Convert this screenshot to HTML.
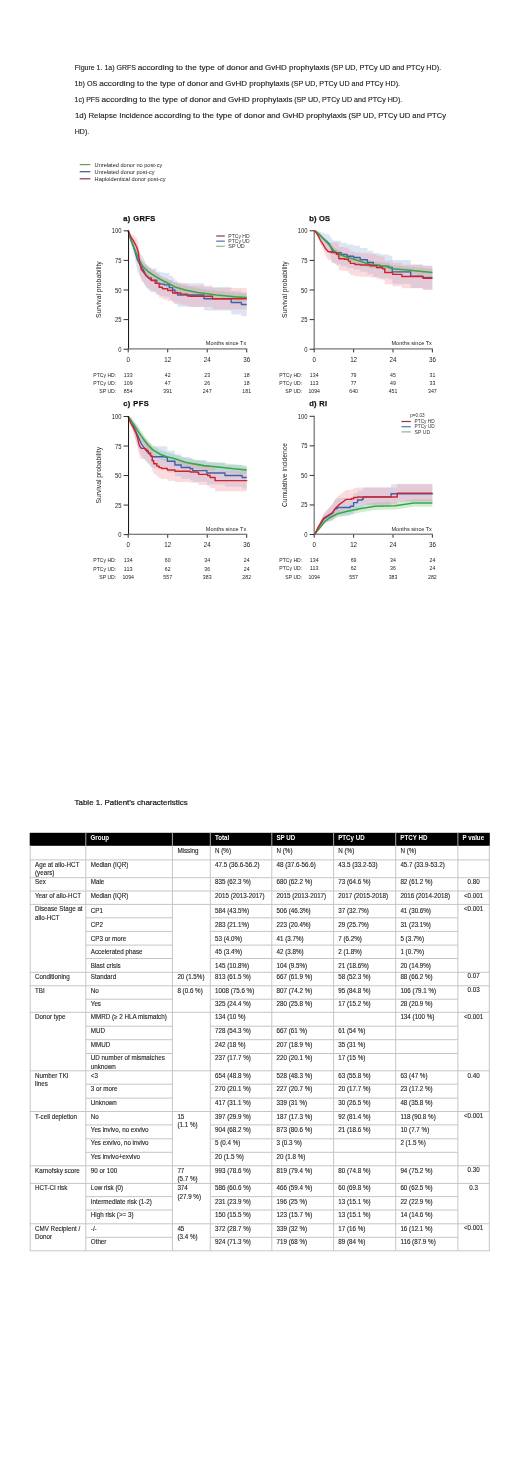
<!DOCTYPE html>
<html><head><meta charset="utf-8"><style>
html,body{margin:0;padding:0;background:#fff;}
body{width:520px;height:1471px;overflow:hidden;position:relative;}
svg{position:absolute;left:0;top:0;filter:blur(0.35px);}
text{font-family:"Liberation Sans",sans-serif;}
.d{stroke:#1a1a1a;stroke-width:0.12px;}
.t{stroke:#1e1e1e;stroke-width:0.12px;}
.h{stroke:#fff;stroke-width:0.1px;}
.ti{stroke:#111;stroke-width:0.25px;}
.tt{stroke:#1a1a1a;stroke-width:0.22px;}
</style></head><body>
<svg width="520" height="1471" viewBox="0 0 520 1471">
<text x="74.80" y="69.80" font-size="6.9" fill="#1a1a1a" class="d" textLength="61.10" lengthAdjust="spacingAndGlyphs">Figure 1. 1a) GRFS</text>
<text x="137.70" y="69.80" font-size="6.9" fill="#1a1a1a" class="d" textLength="110.00" lengthAdjust="spacingAndGlyphs">according to the type of donor</text>
<text x="249.50" y="69.80" font-size="6.9" fill="#1a1a1a" class="d" textLength="79.90" lengthAdjust="spacingAndGlyphs">and GvHD prophylaxis</text>
<text x="331.20" y="69.80" font-size="6.9" fill="#1a1a1a" class="d" textLength="110.00" lengthAdjust="spacingAndGlyphs">(SP UD, PTCy UD and PTCy HD).</text>
<text x="74.60" y="85.70" font-size="6.9" fill="#1a1a1a" class="d" textLength="22.80" lengthAdjust="spacingAndGlyphs">1b) OS</text>
<text x="99.20" y="85.70" font-size="6.9" fill="#1a1a1a" class="d" textLength="108.80" lengthAdjust="spacingAndGlyphs">according to the type of donor</text>
<text x="209.80" y="85.70" font-size="6.9" fill="#1a1a1a" class="d" textLength="79.70" lengthAdjust="spacingAndGlyphs">and GvHD prophylaxis</text>
<text x="291.30" y="85.70" font-size="6.9" fill="#1a1a1a" class="d" textLength="108.70" lengthAdjust="spacingAndGlyphs">(SP UD, PTCy UD and PTCy HD).</text>
<text x="74.60" y="101.70" font-size="6.9" fill="#1a1a1a" class="d" textLength="25.10" lengthAdjust="spacingAndGlyphs">1c) PFS</text>
<text x="101.50" y="101.70" font-size="6.9" fill="#1a1a1a" class="d" textLength="109.20" lengthAdjust="spacingAndGlyphs">according to the type of donor</text>
<text x="212.50" y="101.70" font-size="6.9" fill="#1a1a1a" class="d" textLength="79.90" lengthAdjust="spacingAndGlyphs">and GvHD prophylaxis</text>
<text x="294.20" y="101.70" font-size="6.9" fill="#1a1a1a" class="d" textLength="108.10" lengthAdjust="spacingAndGlyphs">(SP UD, PTCy UD and PTCy HD).</text>
<text x="75.00" y="118.20" font-size="6.9" fill="#1a1a1a" class="d" textLength="77.80" lengthAdjust="spacingAndGlyphs">1d) Relapse Incidence</text>
<text x="154.60" y="118.20" font-size="6.9" fill="#1a1a1a" class="d" textLength="110.50" lengthAdjust="spacingAndGlyphs">according to the type of donor</text>
<text x="266.90" y="118.20" font-size="6.9" fill="#1a1a1a" class="d" textLength="79.80" lengthAdjust="spacingAndGlyphs">and GvHD prophylaxis</text>
<text x="348.50" y="118.20" font-size="6.9" fill="#1a1a1a" class="d" textLength="97.50" lengthAdjust="spacingAndGlyphs">(SP UD, PTCy UD and PTCy</text>
<text x="74.80" y="133.90" font-size="6.9" fill="#1a1a1a" class="d" textLength="14.40" lengthAdjust="spacingAndGlyphs">HD).</text>
<text x="74.60" y="805.40" font-size="7.3" fill="#1a1a1a" class="tt" textLength="113.10" lengthAdjust="spacingAndGlyphs">Table 1. Patient’s characteristics</text>
<rect x="29.70" y="832.80" width="460.10" height="13.00" fill="#000"/>
<text x="90.40" y="839.70" font-size="6.7" font-weight="bold" fill="#fff" textLength="18.60" lengthAdjust="spacingAndGlyphs">Group</text>
<text x="214.90" y="839.70" font-size="6.7" font-weight="bold" fill="#fff" textLength="14.35" lengthAdjust="spacingAndGlyphs">Total</text>
<text x="276.40" y="839.70" font-size="6.7" font-weight="bold" fill="#fff" textLength="18.84" lengthAdjust="spacingAndGlyphs">SP UD</text>
<text x="338.20" y="839.70" font-size="6.7" font-weight="bold" fill="#fff" textLength="26.53" lengthAdjust="spacingAndGlyphs">PTCy UD</text>
<text x="400.30" y="839.70" font-size="6.7" font-weight="bold" fill="#fff" textLength="27.10" lengthAdjust="spacingAndGlyphs">PTCY HD</text>
<text x="462.50" y="839.70" font-size="6.7" font-weight="bold" fill="#fff" textLength="21.60" lengthAdjust="spacingAndGlyphs">P value</text>
<rect x="85.30" y="832.80" width="1" height="13.00" fill="#a8a8a8"/>
<rect x="171.90" y="832.80" width="1" height="13.00" fill="#a8a8a8"/>
<rect x="209.80" y="832.80" width="1" height="13.00" fill="#a8a8a8"/>
<rect x="271.30" y="832.80" width="1" height="13.00" fill="#a8a8a8"/>
<rect x="333.10" y="832.80" width="1" height="13.00" fill="#a8a8a8"/>
<rect x="395.20" y="832.80" width="1" height="13.00" fill="#a8a8a8"/>
<rect x="457.40" y="832.80" width="1" height="13.00" fill="#a8a8a8"/>
<rect x="29.70" y="845.80" width="1" height="405.00" fill="#c6c6c6"/>
<rect x="85.30" y="845.80" width="1" height="405.00" fill="#c6c6c6"/>
<rect x="171.90" y="845.80" width="1" height="405.00" fill="#c6c6c6"/>
<rect x="209.80" y="845.80" width="1" height="405.00" fill="#c6c6c6"/>
<rect x="271.30" y="845.80" width="1" height="405.00" fill="#c6c6c6"/>
<rect x="333.10" y="845.80" width="1" height="405.00" fill="#c6c6c6"/>
<rect x="395.20" y="845.80" width="1" height="405.00" fill="#c6c6c6"/>
<rect x="457.40" y="845.80" width="1" height="405.00" fill="#c6c6c6"/>
<rect x="488.80" y="845.80" width="1" height="405.00" fill="#c6c6c6"/>
<rect x="29.70" y="859.40" width="460.10" height="1" fill="#c6c6c6"/>
<text x="177.40" y="852.80" font-size="6.6" fill="#1e1e1e" class="t" textLength="21.18" lengthAdjust="spacingAndGlyphs">Missing</text>
<text x="215.00" y="852.80" font-size="6.6" fill="#1e1e1e" class="t" textLength="15.97" lengthAdjust="spacingAndGlyphs">N (%)</text>
<text x="276.50" y="852.80" font-size="6.6" fill="#1e1e1e" class="t" textLength="15.97" lengthAdjust="spacingAndGlyphs">N (%)</text>
<text x="338.30" y="852.80" font-size="6.6" fill="#1e1e1e" class="t" textLength="15.97" lengthAdjust="spacingAndGlyphs">N (%)</text>
<text x="400.40" y="852.80" font-size="6.6" fill="#1e1e1e" class="t" textLength="15.97" lengthAdjust="spacingAndGlyphs">N (%)</text>
<rect x="29.70" y="877.20" width="460.10" height="1" fill="#c6c6c6"/>
<text x="35.00" y="866.90" font-size="6.6" fill="#1e1e1e" class="t" textLength="44.46" lengthAdjust="spacingAndGlyphs">Age at allo-HCT</text>
<text x="35.00" y="875.30" font-size="6.6" fill="#1e1e1e" class="t" textLength="19.44" lengthAdjust="spacingAndGlyphs">(years)</text>
<text x="90.80" y="866.90" font-size="6.6" fill="#1e1e1e" class="t" textLength="37.51" lengthAdjust="spacingAndGlyphs">Median (IQR)</text>
<text x="215.00" y="866.90" font-size="6.6" fill="#1e1e1e" class="t" textLength="44.47" lengthAdjust="spacingAndGlyphs">47.5 (36.6-56.2)</text>
<text x="276.50" y="866.90" font-size="6.6" fill="#1e1e1e" class="t" textLength="39.26" lengthAdjust="spacingAndGlyphs">48 (37.6-56.6)</text>
<text x="338.30" y="866.90" font-size="6.6" fill="#1e1e1e" class="t" textLength="39.26" lengthAdjust="spacingAndGlyphs">43.5 (33.2-53)</text>
<text x="400.40" y="866.90" font-size="6.6" fill="#1e1e1e" class="t" textLength="44.47" lengthAdjust="spacingAndGlyphs">45.7 (33.9-53.2)</text>
<rect x="29.70" y="890.50" width="460.10" height="1" fill="#c6c6c6"/>
<text x="35.00" y="884.00" font-size="6.6" fill="#1e1e1e" class="t" textLength="10.77" lengthAdjust="spacingAndGlyphs">Sex</text>
<text x="473.60" y="883.70" font-size="6.6" text-anchor="middle" fill="#1e1e1e" class="t" textLength="12.16" lengthAdjust="spacingAndGlyphs">0.80</text>
<text x="90.80" y="884.00" font-size="6.6" fill="#1e1e1e" class="t" textLength="13.55" lengthAdjust="spacingAndGlyphs">Male</text>
<text x="215.00" y="884.00" font-size="6.6" fill="#1e1e1e" class="t" textLength="35.78" lengthAdjust="spacingAndGlyphs">835 (62.3 %)</text>
<text x="276.50" y="884.00" font-size="6.6" fill="#1e1e1e" class="t" textLength="35.78" lengthAdjust="spacingAndGlyphs">680 (62.2 %)</text>
<text x="338.30" y="884.00" font-size="6.6" fill="#1e1e1e" class="t" textLength="32.31" lengthAdjust="spacingAndGlyphs">73 (64.6 %)</text>
<text x="400.40" y="884.00" font-size="6.6" fill="#1e1e1e" class="t" textLength="32.31" lengthAdjust="spacingAndGlyphs">82 (61.2 %)</text>
<rect x="29.70" y="903.90" width="460.10" height="1" fill="#c6c6c6"/>
<text x="35.00" y="897.70" font-size="6.6" fill="#1e1e1e" class="t" textLength="45.97" lengthAdjust="spacingAndGlyphs">Year of allo-HCT</text>
<text x="473.60" y="897.50" font-size="6.6" text-anchor="middle" fill="#1e1e1e" class="t" textLength="19.29" lengthAdjust="spacingAndGlyphs">&lt;0.001</text>
<text x="90.80" y="897.70" font-size="6.6" fill="#1e1e1e" class="t" textLength="37.51" lengthAdjust="spacingAndGlyphs">Median (IQR)</text>
<text x="215.00" y="897.70" font-size="6.6" fill="#1e1e1e" class="t" textLength="49.69" lengthAdjust="spacingAndGlyphs">2015 (2013-2017)</text>
<text x="276.50" y="897.70" font-size="6.6" fill="#1e1e1e" class="t" textLength="49.69" lengthAdjust="spacingAndGlyphs">2015 (2013-2017)</text>
<text x="338.30" y="897.70" font-size="6.6" fill="#1e1e1e" class="t" textLength="49.69" lengthAdjust="spacingAndGlyphs">2017 (2015-2018)</text>
<text x="400.40" y="897.70" font-size="6.6" fill="#1e1e1e" class="t" textLength="49.69" lengthAdjust="spacingAndGlyphs">2016 (2014-2018)</text>
<rect x="29.70" y="971.80" width="460.10" height="1" fill="#c6c6c6"/>
<rect x="85.80" y="917.30" width="86.60" height="1" fill="#c6c6c6"/>
<rect x="210.30" y="917.30" width="247.60" height="1" fill="#c6c6c6"/>
<rect x="85.80" y="930.90" width="86.60" height="1" fill="#c6c6c6"/>
<rect x="210.30" y="930.90" width="247.60" height="1" fill="#c6c6c6"/>
<rect x="85.80" y="944.60" width="86.60" height="1" fill="#c6c6c6"/>
<rect x="210.30" y="944.60" width="247.60" height="1" fill="#c6c6c6"/>
<rect x="85.80" y="958.00" width="86.60" height="1" fill="#c6c6c6"/>
<rect x="210.30" y="958.00" width="247.60" height="1" fill="#c6c6c6"/>
<text x="35.00" y="911.20" font-size="6.6" fill="#1e1e1e" class="t" textLength="47.60" lengthAdjust="spacingAndGlyphs">Disease Stage at</text>
<text x="35.00" y="919.60" font-size="6.6" fill="#1e1e1e" class="t" textLength="24.65" lengthAdjust="spacingAndGlyphs">allo-HCT</text>
<text x="473.60" y="910.80" font-size="6.6" text-anchor="middle" fill="#1e1e1e" class="t" textLength="19.29" lengthAdjust="spacingAndGlyphs">&lt;0.001</text>
<text x="90.80" y="913.10" font-size="6.6" fill="#1e1e1e" class="t" textLength="12.16" lengthAdjust="spacingAndGlyphs">CP1</text>
<text x="215.00" y="913.10" font-size="6.6" fill="#1e1e1e" class="t" textLength="34.05" lengthAdjust="spacingAndGlyphs">584 (43.5%)</text>
<text x="276.50" y="913.10" font-size="6.6" fill="#1e1e1e" class="t" textLength="34.05" lengthAdjust="spacingAndGlyphs">506 (46.3%)</text>
<text x="338.30" y="913.10" font-size="6.6" fill="#1e1e1e" class="t" textLength="30.57" lengthAdjust="spacingAndGlyphs">37 (32.7%)</text>
<text x="400.40" y="913.10" font-size="6.6" fill="#1e1e1e" class="t" textLength="30.57" lengthAdjust="spacingAndGlyphs">41 (30.6%)</text>
<text x="90.80" y="927.00" font-size="6.6" fill="#1e1e1e" class="t" textLength="12.16" lengthAdjust="spacingAndGlyphs">CP2</text>
<text x="215.00" y="927.00" font-size="6.6" fill="#1e1e1e" class="t" textLength="34.05" lengthAdjust="spacingAndGlyphs">283 (21.1%)</text>
<text x="276.50" y="927.00" font-size="6.6" fill="#1e1e1e" class="t" textLength="34.05" lengthAdjust="spacingAndGlyphs">223 (20.4%)</text>
<text x="338.30" y="927.00" font-size="6.6" fill="#1e1e1e" class="t" textLength="30.57" lengthAdjust="spacingAndGlyphs">29 (25.7%)</text>
<text x="400.40" y="927.00" font-size="6.6" fill="#1e1e1e" class="t" textLength="30.57" lengthAdjust="spacingAndGlyphs">31 (23.1%)</text>
<text x="90.80" y="940.70" font-size="6.6" fill="#1e1e1e" class="t" textLength="35.43" lengthAdjust="spacingAndGlyphs">CP3 or more</text>
<text x="215.00" y="940.70" font-size="6.6" fill="#1e1e1e" class="t" textLength="27.09" lengthAdjust="spacingAndGlyphs">53 (4.0%)</text>
<text x="276.50" y="940.70" font-size="6.6" fill="#1e1e1e" class="t" textLength="27.09" lengthAdjust="spacingAndGlyphs">41 (3.7%)</text>
<text x="338.30" y="940.70" font-size="6.6" fill="#1e1e1e" class="t" textLength="23.62" lengthAdjust="spacingAndGlyphs">7 (6.2%)</text>
<text x="400.40" y="940.70" font-size="6.6" fill="#1e1e1e" class="t" textLength="23.62" lengthAdjust="spacingAndGlyphs">5 (3.7%)</text>
<text x="90.80" y="953.90" font-size="6.6" fill="#1e1e1e" class="t" textLength="51.77" lengthAdjust="spacingAndGlyphs">Accelerated phase</text>
<text x="215.00" y="953.90" font-size="6.6" fill="#1e1e1e" class="t" textLength="27.09" lengthAdjust="spacingAndGlyphs">45 (3.4%)</text>
<text x="276.50" y="953.90" font-size="6.6" fill="#1e1e1e" class="t" textLength="27.09" lengthAdjust="spacingAndGlyphs">42 (3.8%)</text>
<text x="338.30" y="953.90" font-size="6.6" fill="#1e1e1e" class="t" textLength="23.62" lengthAdjust="spacingAndGlyphs">2 (1.8%)</text>
<text x="400.40" y="953.90" font-size="6.6" fill="#1e1e1e" class="t" textLength="23.62" lengthAdjust="spacingAndGlyphs">1 (0.7%)</text>
<text x="90.80" y="967.80" font-size="6.6" fill="#1e1e1e" class="t" textLength="29.86" lengthAdjust="spacingAndGlyphs">Blast crisis</text>
<text x="215.00" y="967.80" font-size="6.6" fill="#1e1e1e" class="t" textLength="34.05" lengthAdjust="spacingAndGlyphs">145 (10.8%)</text>
<text x="276.50" y="967.80" font-size="6.6" fill="#1e1e1e" class="t" textLength="30.57" lengthAdjust="spacingAndGlyphs">104 (9.5%)</text>
<text x="338.30" y="967.80" font-size="6.6" fill="#1e1e1e" class="t" textLength="30.57" lengthAdjust="spacingAndGlyphs">21 (18.6%)</text>
<text x="400.40" y="967.80" font-size="6.6" fill="#1e1e1e" class="t" textLength="30.57" lengthAdjust="spacingAndGlyphs">20 (14.9%)</text>
<rect x="29.70" y="985.30" width="460.10" height="1" fill="#c6c6c6"/>
<text x="35.00" y="978.60" font-size="6.6" fill="#1e1e1e" class="t" textLength="34.75" lengthAdjust="spacingAndGlyphs">Conditioning</text>
<text x="177.40" y="978.60" font-size="6.6" fill="#1e1e1e" class="t" textLength="27.09" lengthAdjust="spacingAndGlyphs">20 (1.5%)</text>
<text x="473.60" y="978.30" font-size="6.6" text-anchor="middle" fill="#1e1e1e" class="t" textLength="12.16" lengthAdjust="spacingAndGlyphs">0.07</text>
<text x="90.80" y="978.60" font-size="6.6" fill="#1e1e1e" class="t" textLength="25.36" lengthAdjust="spacingAndGlyphs">Standard</text>
<text x="215.00" y="978.60" font-size="6.6" fill="#1e1e1e" class="t" textLength="35.78" lengthAdjust="spacingAndGlyphs">813 (61.5 %)</text>
<text x="276.50" y="978.60" font-size="6.6" fill="#1e1e1e" class="t" textLength="35.78" lengthAdjust="spacingAndGlyphs">667 (61.9 %)</text>
<text x="338.30" y="978.60" font-size="6.6" fill="#1e1e1e" class="t" textLength="32.31" lengthAdjust="spacingAndGlyphs">58 (52.3 %)</text>
<text x="400.40" y="978.60" font-size="6.6" fill="#1e1e1e" class="t" textLength="32.31" lengthAdjust="spacingAndGlyphs">88 (66.2 %)</text>
<rect x="29.70" y="1011.80" width="460.10" height="1" fill="#c6c6c6"/>
<rect x="85.80" y="998.70" width="86.60" height="1" fill="#c6c6c6"/>
<rect x="210.30" y="998.70" width="247.60" height="1" fill="#c6c6c6"/>
<text x="35.00" y="992.60" font-size="6.6" fill="#1e1e1e" class="t" textLength="9.72" lengthAdjust="spacingAndGlyphs">TBI</text>
<text x="177.40" y="992.60" font-size="6.6" fill="#1e1e1e" class="t" textLength="25.36" lengthAdjust="spacingAndGlyphs">8 (0.6 %)</text>
<text x="473.60" y="992.20" font-size="6.6" text-anchor="middle" fill="#1e1e1e" class="t" textLength="12.16" lengthAdjust="spacingAndGlyphs">0.03</text>
<text x="90.80" y="992.60" font-size="6.6" fill="#1e1e1e" class="t" textLength="7.99" lengthAdjust="spacingAndGlyphs">No</text>
<text x="215.00" y="992.60" font-size="6.6" fill="#1e1e1e" class="t" textLength="39.26" lengthAdjust="spacingAndGlyphs">1008 (75.6 %)</text>
<text x="276.50" y="992.60" font-size="6.6" fill="#1e1e1e" class="t" textLength="35.78" lengthAdjust="spacingAndGlyphs">807 (74.2 %)</text>
<text x="338.30" y="992.60" font-size="6.6" fill="#1e1e1e" class="t" textLength="32.31" lengthAdjust="spacingAndGlyphs">95 (84.8 %)</text>
<text x="400.40" y="992.60" font-size="6.6" fill="#1e1e1e" class="t" textLength="35.78" lengthAdjust="spacingAndGlyphs">106 (79.1 %)</text>
<text x="90.80" y="1006.10" font-size="6.6" fill="#1e1e1e" class="t" textLength="10.20" lengthAdjust="spacingAndGlyphs">Yes</text>
<text x="215.00" y="1006.10" font-size="6.6" fill="#1e1e1e" class="t" textLength="35.78" lengthAdjust="spacingAndGlyphs">325 (24.4 %)</text>
<text x="276.50" y="1006.10" font-size="6.6" fill="#1e1e1e" class="t" textLength="35.78" lengthAdjust="spacingAndGlyphs">280 (25.8 %)</text>
<text x="338.30" y="1006.10" font-size="6.6" fill="#1e1e1e" class="t" textLength="32.31" lengthAdjust="spacingAndGlyphs">17 (15.2 %)</text>
<text x="400.40" y="1006.10" font-size="6.6" fill="#1e1e1e" class="t" textLength="32.31" lengthAdjust="spacingAndGlyphs">28 (20.9 %)</text>
<rect x="29.70" y="1070.30" width="460.10" height="1" fill="#c6c6c6"/>
<rect x="85.80" y="1025.70" width="86.60" height="1" fill="#c6c6c6"/>
<rect x="210.30" y="1025.70" width="247.60" height="1" fill="#c6c6c6"/>
<rect x="85.80" y="1039.20" width="86.60" height="1" fill="#c6c6c6"/>
<rect x="210.30" y="1039.20" width="247.60" height="1" fill="#c6c6c6"/>
<rect x="85.80" y="1053.00" width="86.60" height="1" fill="#c6c6c6"/>
<rect x="210.30" y="1053.00" width="247.60" height="1" fill="#c6c6c6"/>
<text x="35.00" y="1019.20" font-size="6.6" fill="#1e1e1e" class="t" textLength="30.57" lengthAdjust="spacingAndGlyphs">Donor type</text>
<text x="473.60" y="1019.20" font-size="6.6" text-anchor="middle" fill="#1e1e1e" class="t" textLength="19.29" lengthAdjust="spacingAndGlyphs">&lt;0.001</text>
<text x="90.80" y="1019.20" font-size="6.6" fill="#1e1e1e" class="t" textLength="76.00" lengthAdjust="spacingAndGlyphs">MMRD (≥ 2 HLA mismatch)</text>
<text x="215.00" y="1019.20" font-size="6.6" fill="#1e1e1e" class="t" textLength="30.57" lengthAdjust="spacingAndGlyphs">134 (10 %)</text>
<text x="400.40" y="1019.20" font-size="6.6" fill="#1e1e1e" class="t" textLength="34.05" lengthAdjust="spacingAndGlyphs">134 (100 %)</text>
<text x="90.80" y="1033.00" font-size="6.6" fill="#1e1e1e" class="t" textLength="14.23" lengthAdjust="spacingAndGlyphs">MUD</text>
<text x="215.00" y="1033.00" font-size="6.6" fill="#1e1e1e" class="t" textLength="35.78" lengthAdjust="spacingAndGlyphs">728 (54.3 %)</text>
<text x="276.50" y="1033.00" font-size="6.6" fill="#1e1e1e" class="t" textLength="30.57" lengthAdjust="spacingAndGlyphs">667 (61 %)</text>
<text x="338.30" y="1033.00" font-size="6.6" fill="#1e1e1e" class="t" textLength="27.09" lengthAdjust="spacingAndGlyphs">61 (54 %)</text>
<text x="90.80" y="1046.50" font-size="6.6" fill="#1e1e1e" class="t" textLength="19.44" lengthAdjust="spacingAndGlyphs">MMUD</text>
<text x="215.00" y="1046.50" font-size="6.6" fill="#1e1e1e" class="t" textLength="30.57" lengthAdjust="spacingAndGlyphs">242 (18 %)</text>
<text x="276.50" y="1046.50" font-size="6.6" fill="#1e1e1e" class="t" textLength="35.78" lengthAdjust="spacingAndGlyphs">207 (18.9 %)</text>
<text x="338.30" y="1046.50" font-size="6.6" fill="#1e1e1e" class="t" textLength="27.09" lengthAdjust="spacingAndGlyphs">35 (31 %)</text>
<text x="90.80" y="1060.00" font-size="6.6" fill="#1e1e1e" class="t" textLength="73.98" lengthAdjust="spacingAndGlyphs">UD number of mismatches</text>
<text x="90.80" y="1068.70" font-size="6.6" fill="#1e1e1e" class="t" textLength="25.02" lengthAdjust="spacingAndGlyphs">unknown</text>
<text x="215.00" y="1060.00" font-size="6.6" fill="#1e1e1e" class="t" textLength="35.78" lengthAdjust="spacingAndGlyphs">237 (17.7 %)</text>
<text x="276.50" y="1060.00" font-size="6.6" fill="#1e1e1e" class="t" textLength="35.78" lengthAdjust="spacingAndGlyphs">220 (20.1 %)</text>
<text x="338.30" y="1060.00" font-size="6.6" fill="#1e1e1e" class="t" textLength="27.09" lengthAdjust="spacingAndGlyphs">17 (15 %)</text>
<rect x="29.70" y="1111.00" width="460.10" height="1" fill="#c6c6c6"/>
<rect x="85.80" y="1083.70" width="86.60" height="1" fill="#c6c6c6"/>
<rect x="210.30" y="1083.70" width="247.60" height="1" fill="#c6c6c6"/>
<rect x="85.80" y="1097.60" width="86.60" height="1" fill="#c6c6c6"/>
<rect x="210.30" y="1097.60" width="247.60" height="1" fill="#c6c6c6"/>
<text x="35.00" y="1077.60" font-size="6.6" fill="#1e1e1e" class="t" textLength="33.57" lengthAdjust="spacingAndGlyphs">Number TKI</text>
<text x="35.00" y="1086.00" font-size="6.6" fill="#1e1e1e" class="t" textLength="12.85" lengthAdjust="spacingAndGlyphs">lines</text>
<text x="473.60" y="1077.60" font-size="6.6" text-anchor="middle" fill="#1e1e1e" class="t" textLength="12.16" lengthAdjust="spacingAndGlyphs">0.40</text>
<text x="90.80" y="1077.60" font-size="6.6" fill="#1e1e1e" class="t" textLength="7.13" lengthAdjust="spacingAndGlyphs">&lt;3</text>
<text x="215.00" y="1077.60" font-size="6.6" fill="#1e1e1e" class="t" textLength="35.78" lengthAdjust="spacingAndGlyphs">654 (48.8 %)</text>
<text x="276.50" y="1077.60" font-size="6.6" fill="#1e1e1e" class="t" textLength="35.78" lengthAdjust="spacingAndGlyphs">528 (48.3 %)</text>
<text x="338.30" y="1077.60" font-size="6.6" fill="#1e1e1e" class="t" textLength="32.31" lengthAdjust="spacingAndGlyphs">63 (55.8 %)</text>
<text x="400.40" y="1077.60" font-size="6.6" fill="#1e1e1e" class="t" textLength="27.09" lengthAdjust="spacingAndGlyphs">63 (47 %)</text>
<text x="90.80" y="1091.20" font-size="6.6" fill="#1e1e1e" class="t" textLength="26.74" lengthAdjust="spacingAndGlyphs">3 or more</text>
<text x="215.00" y="1091.20" font-size="6.6" fill="#1e1e1e" class="t" textLength="35.78" lengthAdjust="spacingAndGlyphs">270 (20.1 %)</text>
<text x="276.50" y="1091.20" font-size="6.6" fill="#1e1e1e" class="t" textLength="35.78" lengthAdjust="spacingAndGlyphs">227 (20.7 %)</text>
<text x="338.30" y="1091.20" font-size="6.6" fill="#1e1e1e" class="t" textLength="32.31" lengthAdjust="spacingAndGlyphs">20 (17.7 %)</text>
<text x="400.40" y="1091.20" font-size="6.6" fill="#1e1e1e" class="t" textLength="32.31" lengthAdjust="spacingAndGlyphs">23 (17.2 %)</text>
<text x="90.80" y="1105.00" font-size="6.6" fill="#1e1e1e" class="t" textLength="26.05" lengthAdjust="spacingAndGlyphs">Unknown</text>
<text x="215.00" y="1105.00" font-size="6.6" fill="#1e1e1e" class="t" textLength="35.78" lengthAdjust="spacingAndGlyphs">417 (31.1 %)</text>
<text x="276.50" y="1105.00" font-size="6.6" fill="#1e1e1e" class="t" textLength="30.57" lengthAdjust="spacingAndGlyphs">339 (31 %)</text>
<text x="338.30" y="1105.00" font-size="6.6" fill="#1e1e1e" class="t" textLength="32.31" lengthAdjust="spacingAndGlyphs">30 (26.5 %)</text>
<text x="400.40" y="1105.00" font-size="6.6" fill="#1e1e1e" class="t" textLength="32.31" lengthAdjust="spacingAndGlyphs">48 (35.8 %)</text>
<rect x="29.70" y="1165.30" width="460.10" height="1" fill="#c6c6c6"/>
<rect x="85.80" y="1124.40" width="86.60" height="1" fill="#c6c6c6"/>
<rect x="210.30" y="1124.40" width="247.60" height="1" fill="#c6c6c6"/>
<rect x="85.80" y="1138.30" width="86.60" height="1" fill="#c6c6c6"/>
<rect x="210.30" y="1138.30" width="247.60" height="1" fill="#c6c6c6"/>
<rect x="85.80" y="1151.80" width="86.60" height="1" fill="#c6c6c6"/>
<rect x="210.30" y="1151.80" width="247.60" height="1" fill="#c6c6c6"/>
<text x="35.00" y="1118.50" font-size="6.6" fill="#1e1e1e" class="t" textLength="42.04" lengthAdjust="spacingAndGlyphs">T-cell depletion</text>
<text x="177.40" y="1118.50" font-size="6.6" fill="#1e1e1e" class="t" textLength="6.95" lengthAdjust="spacingAndGlyphs">15</text>
<text x="177.40" y="1127.10" font-size="6.6" fill="#1e1e1e" class="t" textLength="20.14" lengthAdjust="spacingAndGlyphs">(1.1 %)</text>
<text x="473.60" y="1118.30" font-size="6.6" text-anchor="middle" fill="#1e1e1e" class="t" textLength="19.29" lengthAdjust="spacingAndGlyphs">&lt;0.001</text>
<text x="90.80" y="1118.50" font-size="6.6" fill="#1e1e1e" class="t" textLength="7.99" lengthAdjust="spacingAndGlyphs">No</text>
<text x="215.00" y="1118.50" font-size="6.6" fill="#1e1e1e" class="t" textLength="35.78" lengthAdjust="spacingAndGlyphs">397 (29.9 %)</text>
<text x="276.50" y="1118.50" font-size="6.6" fill="#1e1e1e" class="t" textLength="35.78" lengthAdjust="spacingAndGlyphs">187 (17.3 %)</text>
<text x="338.30" y="1118.50" font-size="6.6" fill="#1e1e1e" class="t" textLength="32.31" lengthAdjust="spacingAndGlyphs">92 (81.4 %)</text>
<text x="400.40" y="1118.50" font-size="6.6" fill="#1e1e1e" class="t" textLength="35.32" lengthAdjust="spacingAndGlyphs">118 (90.8 %)</text>
<text x="90.80" y="1131.90" font-size="6.6" fill="#1e1e1e" class="t" textLength="57.79" lengthAdjust="spacingAndGlyphs">Yes invivo, no exvivo</text>
<text x="215.00" y="1131.90" font-size="6.6" fill="#1e1e1e" class="t" textLength="35.78" lengthAdjust="spacingAndGlyphs">904 (68.2 %)</text>
<text x="276.50" y="1131.90" font-size="6.6" fill="#1e1e1e" class="t" textLength="35.78" lengthAdjust="spacingAndGlyphs">873 (80.6 %)</text>
<text x="338.30" y="1131.90" font-size="6.6" fill="#1e1e1e" class="t" textLength="32.31" lengthAdjust="spacingAndGlyphs">21 (18.6 %)</text>
<text x="400.40" y="1131.90" font-size="6.6" fill="#1e1e1e" class="t" textLength="28.83" lengthAdjust="spacingAndGlyphs">10 (7.7 %)</text>
<text x="90.80" y="1145.40" font-size="6.6" fill="#1e1e1e" class="t" textLength="57.79" lengthAdjust="spacingAndGlyphs">Yes exvivo, no invivo</text>
<text x="215.00" y="1145.40" font-size="6.6" fill="#1e1e1e" class="t" textLength="25.36" lengthAdjust="spacingAndGlyphs">5 (0.4 %)</text>
<text x="276.50" y="1145.40" font-size="6.6" fill="#1e1e1e" class="t" textLength="25.36" lengthAdjust="spacingAndGlyphs">3 (0.3 %)</text>
<text x="400.40" y="1145.40" font-size="6.6" fill="#1e1e1e" class="t" textLength="25.36" lengthAdjust="spacingAndGlyphs">2 (1.5 %)</text>
<text x="90.80" y="1158.80" font-size="6.6" fill="#1e1e1e" class="t" textLength="49.28" lengthAdjust="spacingAndGlyphs">Yes invivo+exvivo</text>
<text x="215.00" y="1158.80" font-size="6.6" fill="#1e1e1e" class="t" textLength="28.83" lengthAdjust="spacingAndGlyphs">20 (1.5 %)</text>
<text x="276.50" y="1158.80" font-size="6.6" fill="#1e1e1e" class="t" textLength="28.83" lengthAdjust="spacingAndGlyphs">20 (1.8 %)</text>
<rect x="29.70" y="1182.90" width="460.10" height="1" fill="#c6c6c6"/>
<text x="35.00" y="1172.60" font-size="6.6" fill="#1e1e1e" class="t" textLength="44.81" lengthAdjust="spacingAndGlyphs">Karnofsky score</text>
<text x="177.40" y="1172.60" font-size="6.6" fill="#1e1e1e" class="t" textLength="6.95" lengthAdjust="spacingAndGlyphs">77</text>
<text x="177.40" y="1181.20" font-size="6.6" fill="#1e1e1e" class="t" textLength="20.14" lengthAdjust="spacingAndGlyphs">(5.7 %)</text>
<text x="473.60" y="1172.40" font-size="6.6" text-anchor="middle" fill="#1e1e1e" class="t" textLength="12.16" lengthAdjust="spacingAndGlyphs">0.30</text>
<text x="90.80" y="1172.60" font-size="6.6" fill="#1e1e1e" class="t" textLength="26.41" lengthAdjust="spacingAndGlyphs">90 or 100</text>
<text x="215.00" y="1172.60" font-size="6.6" fill="#1e1e1e" class="t" textLength="35.78" lengthAdjust="spacingAndGlyphs">993 (78.6 %)</text>
<text x="276.50" y="1172.60" font-size="6.6" fill="#1e1e1e" class="t" textLength="35.78" lengthAdjust="spacingAndGlyphs">819 (79.4 %)</text>
<text x="338.30" y="1172.60" font-size="6.6" fill="#1e1e1e" class="t" textLength="32.31" lengthAdjust="spacingAndGlyphs">80 (74.8 %)</text>
<text x="400.40" y="1172.60" font-size="6.6" fill="#1e1e1e" class="t" textLength="32.31" lengthAdjust="spacingAndGlyphs">94 (75.2 %)</text>
<rect x="29.70" y="1223.30" width="460.10" height="1" fill="#c6c6c6"/>
<rect x="85.80" y="1196.10" width="86.60" height="1" fill="#c6c6c6"/>
<rect x="210.30" y="1196.10" width="247.60" height="1" fill="#c6c6c6"/>
<rect x="85.80" y="1209.50" width="86.60" height="1" fill="#c6c6c6"/>
<rect x="210.30" y="1209.50" width="247.60" height="1" fill="#c6c6c6"/>
<text x="35.00" y="1190.10" font-size="6.6" fill="#1e1e1e" class="t" textLength="32.29" lengthAdjust="spacingAndGlyphs">HCT-CI risk</text>
<text x="177.40" y="1190.10" font-size="6.6" fill="#1e1e1e" class="t" textLength="10.43" lengthAdjust="spacingAndGlyphs">374</text>
<text x="177.40" y="1198.70" font-size="6.6" fill="#1e1e1e" class="t" textLength="23.62" lengthAdjust="spacingAndGlyphs">(27.9 %)</text>
<text x="473.60" y="1189.90" font-size="6.6" text-anchor="middle" fill="#1e1e1e" class="t" textLength="8.69" lengthAdjust="spacingAndGlyphs">0.3</text>
<text x="90.80" y="1190.10" font-size="6.6" fill="#1e1e1e" class="t" textLength="32.29" lengthAdjust="spacingAndGlyphs">Low risk (0)</text>
<text x="215.00" y="1190.10" font-size="6.6" fill="#1e1e1e" class="t" textLength="35.78" lengthAdjust="spacingAndGlyphs">586 (60.6 %)</text>
<text x="276.50" y="1190.10" font-size="6.6" fill="#1e1e1e" class="t" textLength="35.78" lengthAdjust="spacingAndGlyphs">466 (59.4 %)</text>
<text x="338.30" y="1190.10" font-size="6.6" fill="#1e1e1e" class="t" textLength="32.31" lengthAdjust="spacingAndGlyphs">60 (69.8 %)</text>
<text x="400.40" y="1190.10" font-size="6.6" fill="#1e1e1e" class="t" textLength="32.31" lengthAdjust="spacingAndGlyphs">60 (62.5 %)</text>
<text x="90.80" y="1203.50" font-size="6.6" fill="#1e1e1e" class="t" textLength="61.12" lengthAdjust="spacingAndGlyphs">Intermediate risk (1-2)</text>
<text x="215.00" y="1203.50" font-size="6.6" fill="#1e1e1e" class="t" textLength="35.78" lengthAdjust="spacingAndGlyphs">231 (23.9 %)</text>
<text x="276.50" y="1203.50" font-size="6.6" fill="#1e1e1e" class="t" textLength="30.57" lengthAdjust="spacingAndGlyphs">196 (25 %)</text>
<text x="338.30" y="1203.50" font-size="6.6" fill="#1e1e1e" class="t" textLength="32.31" lengthAdjust="spacingAndGlyphs">13 (15.1 %)</text>
<text x="400.40" y="1203.50" font-size="6.6" fill="#1e1e1e" class="t" textLength="32.31" lengthAdjust="spacingAndGlyphs">22 (22.9 %)</text>
<text x="90.80" y="1216.90" font-size="6.6" fill="#1e1e1e" class="t" textLength="42.72" lengthAdjust="spacingAndGlyphs">High risk (&gt;= 3)</text>
<text x="215.00" y="1216.90" font-size="6.6" fill="#1e1e1e" class="t" textLength="35.78" lengthAdjust="spacingAndGlyphs">150 (15.5 %)</text>
<text x="276.50" y="1216.90" font-size="6.6" fill="#1e1e1e" class="t" textLength="35.78" lengthAdjust="spacingAndGlyphs">123 (15.7 %)</text>
<text x="338.30" y="1216.90" font-size="6.6" fill="#1e1e1e" class="t" textLength="32.31" lengthAdjust="spacingAndGlyphs">13 (15.1 %)</text>
<text x="400.40" y="1216.90" font-size="6.6" fill="#1e1e1e" class="t" textLength="32.31" lengthAdjust="spacingAndGlyphs">14 (14.6 %)</text>
<rect x="29.70" y="1250.30" width="460.10" height="1" fill="#c6c6c6"/>
<rect x="85.80" y="1236.80" width="86.60" height="1" fill="#c6c6c6"/>
<rect x="210.30" y="1236.80" width="247.60" height="1" fill="#c6c6c6"/>
<text x="35.00" y="1230.70" font-size="6.6" fill="#1e1e1e" class="t" textLength="45.15" lengthAdjust="spacingAndGlyphs">CMV Recipient /</text>
<text x="35.00" y="1239.10" font-size="6.6" fill="#1e1e1e" class="t" textLength="17.02" lengthAdjust="spacingAndGlyphs">Donor</text>
<text x="177.40" y="1230.70" font-size="6.6" fill="#1e1e1e" class="t" textLength="6.95" lengthAdjust="spacingAndGlyphs">45</text>
<text x="177.40" y="1239.30" font-size="6.6" fill="#1e1e1e" class="t" textLength="20.14" lengthAdjust="spacingAndGlyphs">(3.4 %)</text>
<text x="473.60" y="1230.40" font-size="6.6" text-anchor="middle" fill="#1e1e1e" class="t" textLength="19.29" lengthAdjust="spacingAndGlyphs">&lt;0.001</text>
<text x="90.80" y="1230.70" font-size="6.6" fill="#1e1e1e" class="t" textLength="5.90" lengthAdjust="spacingAndGlyphs">-/-</text>
<text x="215.00" y="1230.70" font-size="6.6" fill="#1e1e1e" class="t" textLength="35.78" lengthAdjust="spacingAndGlyphs">372 (28.7 %)</text>
<text x="276.50" y="1230.70" font-size="6.6" fill="#1e1e1e" class="t" textLength="30.57" lengthAdjust="spacingAndGlyphs">339 (32 %)</text>
<text x="338.30" y="1230.70" font-size="6.6" fill="#1e1e1e" class="t" textLength="27.09" lengthAdjust="spacingAndGlyphs">17 (16 %)</text>
<text x="400.40" y="1230.70" font-size="6.6" fill="#1e1e1e" class="t" textLength="32.31" lengthAdjust="spacingAndGlyphs">16 (12.1 %)</text>
<text x="90.80" y="1244.00" font-size="6.6" fill="#1e1e1e" class="t" textLength="15.63" lengthAdjust="spacingAndGlyphs">Other</text>
<text x="215.00" y="1244.00" font-size="6.6" fill="#1e1e1e" class="t" textLength="35.78" lengthAdjust="spacingAndGlyphs">924 (71.3 %)</text>
<text x="276.50" y="1244.00" font-size="6.6" fill="#1e1e1e" class="t" textLength="30.57" lengthAdjust="spacingAndGlyphs">719 (68 %)</text>
<text x="338.30" y="1244.00" font-size="6.6" fill="#1e1e1e" class="t" textLength="27.09" lengthAdjust="spacingAndGlyphs">89 (84 %)</text>
<text x="400.40" y="1244.00" font-size="6.6" fill="#1e1e1e" class="t" textLength="35.32" lengthAdjust="spacingAndGlyphs">116 (87.9 %)</text>
<rect x="79.7" y="164.00" width="10.7" height="1.2" fill="#6a9a5e"/>
<text x="94.60" y="166.60" font-size="5.6" fill="#222" textLength="67.70" lengthAdjust="spacingAndGlyphs">Unrelated donor no post-cy</text>
<rect x="79.7" y="171.10" width="10.7" height="1.2" fill="#42568e"/>
<text x="94.60" y="173.70" font-size="5.6" fill="#222" textLength="60.00" lengthAdjust="spacingAndGlyphs">Unrelated donor post-cy</text>
<rect x="79.7" y="178.20" width="10.7" height="1.2" fill="#9a2f42"/>
<text x="94.60" y="180.80" font-size="5.6" fill="#222" textLength="71.00" lengthAdjust="spacingAndGlyphs">Haploidentical donor post-cy</text>
<path d="M128.20,230.80L129.85,234.96L132.91,242.91L136.00,249.31L139.10,256.14L142.92,262.41L147.49,266.91L152.89,270.70L160.46,275.20L166.06,278.16L174.95,282.78L185.15,285.86L197.33,288.34L207.21,289.64L216.43,290.83L226.96,291.78L235.19,292.72L246.71,293.32L246.71,301.60L235.19,301.01L226.96,300.06L216.43,299.12L207.21,297.93L197.33,296.63L185.15,294.14L174.95,291.07L166.06,286.45L160.46,283.49L152.89,278.99L147.49,275.20L142.92,270.70L139.10,264.43L136.00,255.86L132.91,246.86L129.85,236.35L128.20,230.80Z" fill="#8cd28c" fill-opacity="0.4" stroke="none"/>
<path d="M128.20,230.80L130.60,236.68L133.70,240.67L136.00,245.60L137.52,249.11L139.72,252.35L143.67,258.51L145.98,263.83L151.24,268.45L156.84,268.45L156.84,271.53L160.13,271.53L160.13,272.24L164.41,272.24L164.41,273.07L169.35,273.07L169.35,275.79L172.64,275.79L172.64,278.16L174.95,278.16L174.95,280.65L177.58,280.65L177.58,283.13L203.92,283.13L203.92,286.92L231.24,286.92L231.24,290.71L241.44,290.71L241.44,292.60L246.71,292.60L246.71,292.60L246.71,316.28L246.71,316.28L241.44,316.28L241.44,314.39L231.24,314.39L231.24,310.60L203.92,310.60L203.92,306.81L177.58,306.81L177.58,304.33L174.95,304.33L174.95,301.84L172.64,301.84L172.64,299.47L169.35,299.47L169.35,296.75L164.41,296.75L164.41,295.92L160.13,295.92L160.13,295.21L156.84,295.21L156.84,292.13L151.24,292.13L145.98,287.51L143.67,282.19L139.72,276.03L137.52,271.45L136.00,264.31L133.70,253.85L130.60,242.44L128.20,230.80Z" fill="#8caadc" fill-opacity="0.3" stroke="none"/>
<path d="M128.20,230.80L130.60,233.89L133.70,235.17L136.79,237.99L138.31,241.93L139.10,248.09L140.22,254.24L141.37,258.86L145.19,263.60L149.10,267.39L151.24,267.39L151.24,269.87L155.19,269.87L155.19,272.71L159.14,272.71L159.14,276.50L162.44,276.50L162.44,278.16L167.70,278.16L167.70,279.94L172.64,279.94L172.64,282.30L180.87,282.30L180.87,283.49L187.46,283.49L187.46,285.26L190.09,285.26L190.09,285.62L212.48,285.62L212.48,288.11L246.71,288.11L246.71,288.11L246.71,309.42L246.71,309.42L212.48,309.42L212.48,306.93L190.09,306.93L190.09,306.58L187.46,306.58L187.46,304.80L180.87,304.80L180.87,303.62L172.64,303.62L172.64,301.25L167.70,301.25L167.70,299.47L162.44,299.47L162.44,297.81L159.14,297.81L159.14,294.03L155.19,294.03L155.19,291.18L151.24,291.18L151.24,288.70L149.10,288.70L145.19,284.91L141.37,280.17L140.22,275.56L139.10,269.40L138.31,263.24L136.79,256.53L133.70,247.03L130.60,239.08L128.20,230.80Z" fill="#f08c96" fill-opacity="0.3" stroke="none"/>
<path d="M128.20,230.80L130.60,239.56L133.70,247.26L136.00,254.95L137.52,260.28L139.72,264.19L143.67,270.35L145.98,275.67L151.24,280.29H156.84V283.37H160.13V284.08H164.41V284.91H169.35V287.63H172.64V290.00H174.95V292.49H177.58V294.97H203.92V298.76H231.24V302.55H241.44V304.44H246.71V304.44" fill="none" stroke="#3d62ad" stroke-width="1.4" stroke-linejoin="round"/>
<path d="M128.20,230.80L129.85,235.65L132.91,244.89L136.00,252.59L139.10,260.28L142.92,266.56L147.49,271.06L152.89,274.84L160.46,279.34L166.06,282.30L174.95,286.92L185.15,290.00L197.33,292.49L207.21,293.79L216.43,294.97L226.96,295.92L235.19,296.87L246.71,297.46" fill="none" stroke="#3aa548" stroke-width="1.55" stroke-linejoin="round"/>
<path d="M128.20,230.80L130.60,236.48L133.70,241.10L136.79,247.26L138.31,252.59L139.10,258.74L140.22,264.90L141.37,269.52L145.19,274.25L149.10,278.04H151.24V280.53H155.19V283.37H159.14V287.16H162.44V288.82H167.70V290.59H172.64V292.96H180.87V294.14H187.46V295.92H190.09V296.28H212.48V298.76H246.71V298.76" fill="none" stroke="#d2232a" stroke-width="1.45" stroke-linejoin="round"/>
<rect x="128.0" y="230.30" width="1.05" height="119.40" fill="#1a1a1a"/>
<rect x="127.70" y="348.30" width="119.51" height="1.2" fill="#707070"/>
<rect x="123.60" y="348.70" width="4.6" height="1" fill="#333"/>
<text x="121.60" y="351.70" font-size="7.0" text-anchor="end" fill="#222" textLength="3.25" lengthAdjust="spacingAndGlyphs">0</text>
<rect x="123.60" y="319.10" width="4.6" height="1" fill="#333"/>
<text x="121.60" y="322.10" font-size="7.0" text-anchor="end" fill="#222" textLength="6.50" lengthAdjust="spacingAndGlyphs">25</text>
<rect x="123.60" y="289.50" width="4.6" height="1" fill="#333"/>
<text x="121.60" y="292.50" font-size="7.0" text-anchor="end" fill="#222" textLength="6.50" lengthAdjust="spacingAndGlyphs">50</text>
<rect x="123.60" y="259.90" width="4.6" height="1" fill="#333"/>
<text x="121.60" y="262.90" font-size="7.0" text-anchor="end" fill="#222" textLength="6.50" lengthAdjust="spacingAndGlyphs">75</text>
<rect x="123.60" y="230.30" width="4.6" height="1" fill="#333"/>
<text x="121.60" y="233.30" font-size="7.0" text-anchor="end" fill="#222" textLength="9.75" lengthAdjust="spacingAndGlyphs">100</text>
<rect x="127.70" y="349.20" width="1" height="3.2" fill="#333"/>
<text x="128.20" y="361.80" font-size="7.3" text-anchor="middle" fill="#222" textLength="3.45" lengthAdjust="spacingAndGlyphs">0</text>
<rect x="167.20" y="349.20" width="1" height="3.2" fill="#333"/>
<text x="167.70" y="361.80" font-size="7.3" text-anchor="middle" fill="#222" textLength="6.90" lengthAdjust="spacingAndGlyphs">12</text>
<rect x="206.71" y="349.20" width="1" height="3.2" fill="#333"/>
<text x="207.21" y="361.80" font-size="7.3" text-anchor="middle" fill="#222" textLength="6.90" lengthAdjust="spacingAndGlyphs">24</text>
<rect x="246.21" y="349.20" width="1" height="3.2" fill="#333"/>
<text x="246.71" y="361.80" font-size="7.3" text-anchor="middle" fill="#222" textLength="6.90" lengthAdjust="spacingAndGlyphs">36</text>
<text x="246.21" y="345.20" font-size="5.6" text-anchor="end" fill="#222" textLength="40.40" lengthAdjust="spacingAndGlyphs">Months since Tx</text>
<text x="123.20" y="220.70" font-size="7.5" font-weight="bold" fill="#111" class="ti" textLength="32.00" lengthAdjust="spacing">a) GRFS</text>
<g transform="translate(100.70,289.70) rotate(-90)">
<text x="0.00" y="0.00" font-size="6.5" text-anchor="middle" fill="#222" textLength="56.70" lengthAdjust="spacingAndGlyphs">Survival probability</text>
</g>
<text x="116.20" y="376.80" font-size="5.4" text-anchor="end" fill="#222" textLength="22.90" lengthAdjust="spacingAndGlyphs">PTCy HD:</text>
<text x="128.20" y="376.80" font-size="5.4" text-anchor="middle" fill="#222" textLength="8.70" lengthAdjust="spacingAndGlyphs">133</text>
<text x="167.70" y="376.80" font-size="5.4" text-anchor="middle" fill="#222" textLength="5.80" lengthAdjust="spacingAndGlyphs">42</text>
<text x="207.21" y="376.80" font-size="5.4" text-anchor="middle" fill="#222" textLength="5.80" lengthAdjust="spacingAndGlyphs">23</text>
<text x="246.71" y="376.80" font-size="5.4" text-anchor="middle" fill="#222" textLength="5.80" lengthAdjust="spacingAndGlyphs">18</text>
<text x="116.20" y="385.10" font-size="5.4" text-anchor="end" fill="#222" textLength="22.90" lengthAdjust="spacingAndGlyphs">PTCy UD:</text>
<text x="128.20" y="385.10" font-size="5.4" text-anchor="middle" fill="#222" textLength="8.70" lengthAdjust="spacingAndGlyphs">109</text>
<text x="167.70" y="385.10" font-size="5.4" text-anchor="middle" fill="#222" textLength="5.80" lengthAdjust="spacingAndGlyphs">47</text>
<text x="207.21" y="385.10" font-size="5.4" text-anchor="middle" fill="#222" textLength="5.80" lengthAdjust="spacingAndGlyphs">26</text>
<text x="246.71" y="385.10" font-size="5.4" text-anchor="middle" fill="#222" textLength="5.80" lengthAdjust="spacingAndGlyphs">18</text>
<text x="116.20" y="393.40" font-size="5.4" text-anchor="end" fill="#222" textLength="16.90" lengthAdjust="spacingAndGlyphs">SP UD:</text>
<text x="128.20" y="393.40" font-size="5.4" text-anchor="middle" fill="#222" textLength="8.70" lengthAdjust="spacingAndGlyphs">854</text>
<text x="167.70" y="393.40" font-size="5.4" text-anchor="middle" fill="#222" textLength="8.70" lengthAdjust="spacingAndGlyphs">391</text>
<text x="207.21" y="393.40" font-size="5.4" text-anchor="middle" fill="#222" textLength="8.70" lengthAdjust="spacingAndGlyphs">247</text>
<text x="246.71" y="393.40" font-size="5.4" text-anchor="middle" fill="#222" textLength="8.70" lengthAdjust="spacingAndGlyphs">181</text>
<rect x="216.2" y="235.40" width="8.6" height="1.2" fill="#8e3848"/>
<text x="228.30" y="237.70" font-size="4.6" fill="#333" textLength="21.30" lengthAdjust="spacingAndGlyphs">PTCy HD</text>
<rect x="216.2" y="240.55" width="8.6" height="1.2" fill="#4a78a8"/>
<text x="228.30" y="242.85" font-size="4.6" fill="#333" textLength="21.30" lengthAdjust="spacingAndGlyphs">PTCy UD</text>
<rect x="216.2" y="245.70" width="8.6" height="1.2" fill="#8cb88c"/>
<text x="228.30" y="248.00" font-size="4.6" fill="#333" textLength="16.50" lengthAdjust="spacingAndGlyphs">SP UD</text>
<path d="M314.20,230.80L315.84,231.10L319.78,233.94L323.39,237.19L327.33,240.27L330.62,243.59L333.57,246.84L336.52,249.03L341.12,251.40L346.70,253.65L351.95,255.19L360.16,257.68L370.01,260.87L374.94,261.47L388.72,263.36L392.34,265.14L407.44,266.44L419.26,267.74L432.39,268.92L432.39,276.03L419.26,274.84L407.44,273.54L392.34,272.24L388.72,270.46L374.94,268.57L370.01,267.98L360.16,264.78L351.95,262.29L346.70,260.76L341.12,258.51L336.52,256.14L333.57,253.83L330.62,249.51L327.33,245.01L323.39,240.51L319.78,235.95L315.84,231.69L314.20,230.80Z" fill="#8cd28c" fill-opacity="0.4" stroke="none"/>
<path d="M314.20,230.80L315.84,230.80L319.12,231.39L323.39,232.97L327.33,234.15L329.30,234.75L332.58,240.23L335.54,240.86L341.12,240.86L341.12,242.64L347.03,242.64L347.03,244.42L353.60,244.42L353.60,245.72L360.16,245.72L360.16,247.97L367.38,247.97L367.38,250.69L373.29,250.69L373.29,253.30L379.86,253.30L379.86,254.48L388.72,254.48L388.72,255.66L392.34,255.66L392.34,260.04L410.72,260.04L410.72,264.43L422.54,264.43L422.54,265.61L432.39,265.61L432.39,265.61L432.39,289.29L432.39,289.29L422.54,289.29L422.54,288.11L410.72,288.11L410.72,283.72L392.34,283.72L392.34,279.34L388.72,279.34L388.72,278.16L379.86,278.16L379.86,276.98L373.29,276.98L373.29,274.37L367.38,274.37L367.38,271.65L360.16,271.65L360.16,269.40L353.60,269.40L353.60,268.10L347.03,268.10L347.03,266.32L341.12,266.32L341.12,264.54L335.54,264.54L332.58,262.33L329.30,252.90L327.33,249.94L323.39,244.02L319.12,237.31L315.84,232.62L314.20,230.80Z" fill="#8caadc" fill-opacity="0.3" stroke="none"/>
<path d="M314.20,230.80L315.09,230.80L318.14,233.29L320.44,236.52L323.39,239.36L325.69,241.89L328.32,243.27L331.27,243.27L331.27,242.32L336.52,242.32L336.52,242.40L338.82,242.40L338.82,246.90L344.40,246.90L344.40,247.38L348.34,247.38L348.34,249.27L350.31,249.27L350.31,251.52L354.91,251.52L354.91,252.59L360.16,252.59L360.16,253.18L370.01,253.18L370.01,253.89L376.58,253.89L376.58,255.66L382.49,255.66L382.49,256.85L384.78,256.85L384.78,260.64L392.66,260.64L392.66,262.53L401.86,262.53L401.86,264.66L423.20,264.66L423.20,266.32L432.39,266.32L432.39,266.32L432.39,290.00L432.39,290.00L423.20,290.00L423.20,288.34L401.86,288.34L401.86,286.21L392.66,286.21L392.66,284.32L384.78,284.32L384.78,280.53L382.49,280.53L382.49,279.34L376.58,279.34L376.58,277.57L370.01,277.57L370.01,276.86L360.16,276.86L360.16,276.27L354.91,276.27L354.91,275.20L350.31,275.20L350.31,272.95L348.34,272.95L348.34,271.06L344.40,271.06L344.40,270.58L338.82,270.58L338.82,266.08L336.52,266.08L336.52,262.85L331.27,262.85L331.27,260.24L328.32,260.24L325.69,255.70L323.39,250.41L320.44,244.02L318.14,238.02L315.09,231.69L314.20,230.80Z" fill="#f08c96" fill-opacity="0.3" stroke="none"/>
<path d="M314.20,230.80L315.84,231.63L319.12,234.35L323.39,238.50L327.33,242.05L329.30,243.82L332.58,251.28L335.54,252.70H341.12V254.48H347.03V256.26H353.60V257.56H360.16V259.81H367.38V262.53H373.29V265.14H379.86V266.32H388.72V267.50H392.34V271.88H410.72V276.27H422.54V277.45H432.39V277.45" fill="none" stroke="#3d62ad" stroke-width="1.4" stroke-linejoin="round"/>
<path d="M314.20,230.80L315.84,231.39L319.78,234.94L323.39,238.85L327.33,242.64L330.62,246.55L333.57,250.34L336.52,252.59L341.12,254.95L346.70,257.20L351.95,258.74L360.16,261.23L370.01,264.43L374.94,265.02L388.72,266.91L392.34,268.69L407.44,269.99L419.26,271.29L432.39,272.48" fill="none" stroke="#3aa548" stroke-width="1.55" stroke-linejoin="round"/>
<path d="M314.20,230.80L315.09,231.16L318.14,235.65L320.44,240.27L323.39,244.89L325.69,248.80L328.32,251.76H331.27V252.59H336.52V254.24H338.82V258.74H344.40V259.22H348.34V261.11H350.31V263.36H354.91V264.43H360.16V265.02H370.01V265.73H376.58V267.50H382.49V268.69H384.78V272.48H392.66V274.37H401.86V276.50H423.20V278.16H432.39V278.16" fill="none" stroke="#d2232a" stroke-width="1.45" stroke-linejoin="round"/>
<rect x="313.60" y="230.30" width="1.2" height="119.40" fill="#707070"/>
<rect x="313.70" y="348.30" width="119.19" height="1.2" fill="#707070"/>
<rect x="309.60" y="348.70" width="4.6" height="1" fill="#333"/>
<text x="307.60" y="351.70" font-size="7.0" text-anchor="end" fill="#222" textLength="3.25" lengthAdjust="spacingAndGlyphs">0</text>
<rect x="309.60" y="319.10" width="4.6" height="1" fill="#333"/>
<text x="307.60" y="322.10" font-size="7.0" text-anchor="end" fill="#222" textLength="6.50" lengthAdjust="spacingAndGlyphs">25</text>
<rect x="309.60" y="289.50" width="4.6" height="1" fill="#333"/>
<text x="307.60" y="292.50" font-size="7.0" text-anchor="end" fill="#222" textLength="6.50" lengthAdjust="spacingAndGlyphs">50</text>
<rect x="309.60" y="259.90" width="4.6" height="1" fill="#333"/>
<text x="307.60" y="262.90" font-size="7.0" text-anchor="end" fill="#222" textLength="6.50" lengthAdjust="spacingAndGlyphs">75</text>
<rect x="309.60" y="230.30" width="4.6" height="1" fill="#333"/>
<text x="307.60" y="233.30" font-size="7.0" text-anchor="end" fill="#222" textLength="9.75" lengthAdjust="spacingAndGlyphs">100</text>
<rect x="313.70" y="349.20" width="1" height="3.2" fill="#333"/>
<text x="314.20" y="361.80" font-size="7.3" text-anchor="middle" fill="#222" textLength="3.45" lengthAdjust="spacingAndGlyphs">0</text>
<rect x="353.10" y="349.20" width="1" height="3.2" fill="#333"/>
<text x="353.60" y="361.80" font-size="7.3" text-anchor="middle" fill="#222" textLength="6.90" lengthAdjust="spacingAndGlyphs">12</text>
<rect x="392.49" y="349.20" width="1" height="3.2" fill="#333"/>
<text x="392.99" y="361.80" font-size="7.3" text-anchor="middle" fill="#222" textLength="6.90" lengthAdjust="spacingAndGlyphs">24</text>
<rect x="431.89" y="349.20" width="1" height="3.2" fill="#333"/>
<text x="432.39" y="361.80" font-size="7.3" text-anchor="middle" fill="#222" textLength="6.90" lengthAdjust="spacingAndGlyphs">36</text>
<text x="431.89" y="345.20" font-size="5.6" text-anchor="end" fill="#222" textLength="40.40" lengthAdjust="spacingAndGlyphs">Months since Tx</text>
<text x="309.20" y="220.70" font-size="7.5" font-weight="bold" fill="#111" class="ti" textLength="20.80" lengthAdjust="spacing">b) OS</text>
<g transform="translate(286.70,289.70) rotate(-90)">
<text x="0.00" y="0.00" font-size="6.5" text-anchor="middle" fill="#222" textLength="56.70" lengthAdjust="spacingAndGlyphs">Survival probability</text>
</g>
<text x="302.20" y="376.80" font-size="5.4" text-anchor="end" fill="#222" textLength="22.90" lengthAdjust="spacingAndGlyphs">PTCy HD:</text>
<text x="314.20" y="376.80" font-size="5.4" text-anchor="middle" fill="#222" textLength="8.70" lengthAdjust="spacingAndGlyphs">134</text>
<text x="353.60" y="376.80" font-size="5.4" text-anchor="middle" fill="#222" textLength="5.80" lengthAdjust="spacingAndGlyphs">79</text>
<text x="392.99" y="376.80" font-size="5.4" text-anchor="middle" fill="#222" textLength="5.80" lengthAdjust="spacingAndGlyphs">45</text>
<text x="432.39" y="376.80" font-size="5.4" text-anchor="middle" fill="#222" textLength="5.80" lengthAdjust="spacingAndGlyphs">31</text>
<text x="302.20" y="385.10" font-size="5.4" text-anchor="end" fill="#222" textLength="22.90" lengthAdjust="spacingAndGlyphs">PTCy UD:</text>
<text x="314.20" y="385.10" font-size="5.4" text-anchor="middle" fill="#222" textLength="8.70" lengthAdjust="spacingAndGlyphs">113</text>
<text x="353.60" y="385.10" font-size="5.4" text-anchor="middle" fill="#222" textLength="5.80" lengthAdjust="spacingAndGlyphs">77</text>
<text x="392.99" y="385.10" font-size="5.4" text-anchor="middle" fill="#222" textLength="5.80" lengthAdjust="spacingAndGlyphs">49</text>
<text x="432.39" y="385.10" font-size="5.4" text-anchor="middle" fill="#222" textLength="5.80" lengthAdjust="spacingAndGlyphs">33</text>
<text x="302.20" y="393.40" font-size="5.4" text-anchor="end" fill="#222" textLength="16.90" lengthAdjust="spacingAndGlyphs">SP UD:</text>
<text x="314.20" y="393.40" font-size="5.4" text-anchor="middle" fill="#222" textLength="11.60" lengthAdjust="spacingAndGlyphs">1094</text>
<text x="353.60" y="393.40" font-size="5.4" text-anchor="middle" fill="#222" textLength="8.70" lengthAdjust="spacingAndGlyphs">640</text>
<text x="392.99" y="393.40" font-size="5.4" text-anchor="middle" fill="#222" textLength="8.70" lengthAdjust="spacingAndGlyphs">451</text>
<text x="432.39" y="393.40" font-size="5.4" text-anchor="middle" fill="#222" textLength="8.70" lengthAdjust="spacingAndGlyphs">347</text>
<path d="M128.20,416.50L130.18,418.55L133.70,422.03L137.52,426.44L141.37,431.62L145.19,437.05L149.10,441.66L152.89,445.43L160.59,450.04L166.06,452.05L174.95,454.29L185.15,457.72L190.09,458.66L203.92,461.14L222.68,463.03L233.54,464.33L246.71,465.51L246.71,474.49L233.54,473.31L222.68,472.01L203.92,470.12L190.09,467.64L185.15,466.69L174.95,463.27L166.06,461.02L160.59,459.02L152.89,454.41L149.10,450.63L145.19,446.03L141.37,440.59L137.52,434.91L133.70,427.03L130.18,420.35L128.20,416.50Z" fill="#8cd28c" fill-opacity="0.4" stroke="none"/>
<path d="M128.20,416.50L131.49,417.68L137.52,425.37L141.37,433.15L145.19,438.58L149.10,443.19L152.23,446.14L165.73,446.14L165.73,446.62L167.37,446.62L167.37,450.63L174.95,450.63L174.95,454.41L181.20,454.41L181.20,456.89L190.09,456.89L190.09,458.07L192.72,458.07L192.72,459.96L206.88,459.96L206.88,462.44L224.98,462.44L224.98,464.92L242.10,464.92L242.10,466.81L246.71,466.81L246.71,466.81L246.71,488.66L246.71,488.66L242.10,488.66L242.10,486.77L224.98,486.77L224.98,484.29L206.88,484.29L206.88,481.81L192.72,481.81L192.72,479.92L190.09,479.92L190.09,478.74L181.20,478.74L181.20,476.26L174.95,476.26L174.95,472.48L167.37,472.48L167.37,468.46L165.73,468.46L165.73,467.99L152.23,467.99L149.10,465.04L145.19,460.43L141.37,455.00L137.52,445.98L131.49,424.96L128.20,416.50Z" fill="#8caadc" fill-opacity="0.3" stroke="none"/>
<path d="M128.20,416.50L130.60,420.70L133.70,423.17L136.00,425.57L137.52,428.73L138.73,433.51L139.72,436.70L141.37,438.94L145.19,438.94L145.19,439.77L146.64,439.77L146.64,441.30L148.28,441.30L148.28,443.54L150.59,443.54L150.59,446.62L152.23,446.62L152.23,451.22L153.71,451.22L153.71,454.29L156.84,454.29L156.84,456.65L159.14,456.65L159.14,458.19L161.45,458.19L161.45,459.02L167.37,459.02L167.37,460.55L174.95,460.55L174.95,461.85L190.09,461.85L190.09,462.56L197.33,462.56L197.33,463.03L198.65,463.03L198.65,464.92L207.54,464.92L207.54,466.10L210.17,466.10L210.17,467.99L215.11,467.99L215.11,471.18L246.71,471.18L246.71,471.77L246.71,491.85L246.71,491.26L215.11,491.26L215.11,488.07L210.17,488.07L210.17,486.18L207.54,486.18L207.54,485.00L198.65,485.00L198.65,483.11L197.33,483.11L197.33,482.64L190.09,482.64L190.09,481.93L174.95,481.93L174.95,480.63L167.37,480.63L167.37,479.09L161.45,479.09L161.45,478.27L159.14,478.27L159.14,476.73L156.84,476.73L156.84,474.37L153.71,474.37L153.71,471.30L152.23,471.30L152.23,466.69L150.59,466.69L150.59,463.62L148.28,463.62L148.28,461.38L146.64,461.38L146.64,459.84L145.19,459.84L145.19,459.02L141.37,459.02L139.72,456.77L138.73,453.58L137.52,447.67L136.00,441.43L133.70,434.34L130.60,425.58L128.20,416.50Z" fill="#f08c96" fill-opacity="0.3" stroke="none"/>
<path d="M128.20,416.50L131.49,421.22L137.52,435.40L141.37,443.78L145.19,449.21L149.10,453.82L152.23,456.77H165.73V457.24H167.37V461.26H174.95V465.04H181.20V467.52H190.09V468.70H192.72V470.59H206.88V473.07H224.98V475.55H242.10V477.44H246.71V477.44" fill="none" stroke="#3d62ad" stroke-width="1.4" stroke-linejoin="round"/>
<path d="M128.20,416.50L130.18,419.45L133.70,424.53L137.52,430.67L141.37,436.10L145.19,441.54L149.10,446.14L152.89,449.92L160.59,454.53L166.06,456.54L174.95,458.78L185.15,462.20L190.09,463.15L203.92,465.63L222.68,467.52L233.54,468.82L246.71,470.00" fill="none" stroke="#3aa548" stroke-width="1.55" stroke-linejoin="round"/>
<path d="M128.20,416.50L130.60,423.00L133.70,428.43L136.00,433.03L137.52,437.64L138.73,442.95L139.72,446.14L141.37,448.39H145.19V449.21H146.64V450.75H148.28V452.99H150.59V456.06H152.23V460.67H153.71V463.74H156.84V466.10H159.14V467.64H161.45V468.46H167.37V470.00H174.95V471.30H190.09V472.01H197.33V472.48H198.65V474.37H207.54V475.55H210.17V477.44H215.11V480.63H246.71V481.22" fill="none" stroke="#d2232a" stroke-width="1.45" stroke-linejoin="round"/>
<rect x="128.0" y="416.00" width="1.05" height="119.10" fill="#1a1a1a"/>
<rect x="127.70" y="533.70" width="119.51" height="1.2" fill="#707070"/>
<rect x="123.60" y="534.10" width="4.6" height="1" fill="#333"/>
<text x="121.60" y="537.10" font-size="7.0" text-anchor="end" fill="#222" textLength="3.25" lengthAdjust="spacingAndGlyphs">0</text>
<rect x="123.60" y="504.58" width="4.6" height="1" fill="#333"/>
<text x="121.60" y="507.58" font-size="7.0" text-anchor="end" fill="#222" textLength="6.50" lengthAdjust="spacingAndGlyphs">25</text>
<rect x="123.60" y="475.05" width="4.6" height="1" fill="#333"/>
<text x="121.60" y="478.05" font-size="7.0" text-anchor="end" fill="#222" textLength="6.50" lengthAdjust="spacingAndGlyphs">50</text>
<rect x="123.60" y="445.53" width="4.6" height="1" fill="#333"/>
<text x="121.60" y="448.53" font-size="7.0" text-anchor="end" fill="#222" textLength="6.50" lengthAdjust="spacingAndGlyphs">75</text>
<rect x="123.60" y="416.00" width="4.6" height="1" fill="#333"/>
<text x="121.60" y="419.00" font-size="7.0" text-anchor="end" fill="#222" textLength="9.75" lengthAdjust="spacingAndGlyphs">100</text>
<rect x="127.70" y="534.60" width="1" height="3.2" fill="#333"/>
<text x="128.20" y="547.20" font-size="7.3" text-anchor="middle" fill="#222" textLength="3.45" lengthAdjust="spacingAndGlyphs">0</text>
<rect x="167.20" y="534.60" width="1" height="3.2" fill="#333"/>
<text x="167.70" y="547.20" font-size="7.3" text-anchor="middle" fill="#222" textLength="6.90" lengthAdjust="spacingAndGlyphs">12</text>
<rect x="206.71" y="534.60" width="1" height="3.2" fill="#333"/>
<text x="207.21" y="547.20" font-size="7.3" text-anchor="middle" fill="#222" textLength="6.90" lengthAdjust="spacingAndGlyphs">24</text>
<rect x="246.21" y="534.60" width="1" height="3.2" fill="#333"/>
<text x="246.71" y="547.20" font-size="7.3" text-anchor="middle" fill="#222" textLength="6.90" lengthAdjust="spacingAndGlyphs">36</text>
<text x="246.21" y="530.60" font-size="5.6" text-anchor="end" fill="#222" textLength="40.40" lengthAdjust="spacingAndGlyphs">Months since Tx</text>
<text x="123.20" y="406.10" font-size="7.5" font-weight="bold" fill="#111" class="ti" textLength="25.50" lengthAdjust="spacing">c) PFS</text>
<g transform="translate(100.70,475.25) rotate(-90)">
<text x="0.00" y="0.00" font-size="6.5" text-anchor="middle" fill="#222" textLength="56.70" lengthAdjust="spacingAndGlyphs">Survival probability</text>
</g>
<text x="116.20" y="562.20" font-size="5.4" text-anchor="end" fill="#222" textLength="22.90" lengthAdjust="spacingAndGlyphs">PTCy HD:</text>
<text x="128.20" y="562.20" font-size="5.4" text-anchor="middle" fill="#222" textLength="8.70" lengthAdjust="spacingAndGlyphs">134</text>
<text x="167.70" y="562.20" font-size="5.4" text-anchor="middle" fill="#222" textLength="5.80" lengthAdjust="spacingAndGlyphs">60</text>
<text x="207.21" y="562.20" font-size="5.4" text-anchor="middle" fill="#222" textLength="5.80" lengthAdjust="spacingAndGlyphs">34</text>
<text x="246.71" y="562.20" font-size="5.4" text-anchor="middle" fill="#222" textLength="5.80" lengthAdjust="spacingAndGlyphs">24</text>
<text x="116.20" y="570.50" font-size="5.4" text-anchor="end" fill="#222" textLength="22.90" lengthAdjust="spacingAndGlyphs">PTCy UD:</text>
<text x="128.20" y="570.50" font-size="5.4" text-anchor="middle" fill="#222" textLength="8.70" lengthAdjust="spacingAndGlyphs">113</text>
<text x="167.70" y="570.50" font-size="5.4" text-anchor="middle" fill="#222" textLength="5.80" lengthAdjust="spacingAndGlyphs">62</text>
<text x="207.21" y="570.50" font-size="5.4" text-anchor="middle" fill="#222" textLength="5.80" lengthAdjust="spacingAndGlyphs">36</text>
<text x="246.71" y="570.50" font-size="5.4" text-anchor="middle" fill="#222" textLength="5.80" lengthAdjust="spacingAndGlyphs">24</text>
<text x="116.20" y="578.80" font-size="5.4" text-anchor="end" fill="#222" textLength="16.90" lengthAdjust="spacingAndGlyphs">SP UD:</text>
<text x="128.20" y="578.80" font-size="5.4" text-anchor="middle" fill="#222" textLength="11.60" lengthAdjust="spacingAndGlyphs">1094</text>
<text x="167.70" y="578.80" font-size="5.4" text-anchor="middle" fill="#222" textLength="8.70" lengthAdjust="spacingAndGlyphs">557</text>
<text x="207.21" y="578.80" font-size="5.4" text-anchor="middle" fill="#222" textLength="8.70" lengthAdjust="spacingAndGlyphs">383</text>
<text x="246.71" y="578.80" font-size="5.4" text-anchor="middle" fill="#222" textLength="8.70" lengthAdjust="spacingAndGlyphs">282</text>
<path d="M314.20,534.50L315.84,532.41L320.11,526.39L325.03,519.18L329.96,514.45L337.51,509.91L347.36,507.43L359.83,504.95L374.94,502.47L394.96,501.88L413.67,499.28L432.39,499.28L432.39,506.84L413.67,506.84L394.96,509.44L374.94,510.03L359.83,512.51L347.36,515.00L337.51,517.48L329.96,520.51L325.03,523.34L320.11,528.66L315.84,533.04L314.20,534.50Z" fill="#8cd28c" fill-opacity="0.4" stroke="none"/>
<path d="M314.20,534.50L315.18,533.32L317.48,527.61L321.09,519.96L323.72,514.56L328.65,508.65L332.58,504.40L334.88,499.28L337.18,499.28L337.18,498.09L347.36,498.09L347.36,498.09L350.31,498.09L350.31,496.79L353.60,496.79L353.60,493.13L357.54,493.13L357.54,490.53L362.46,490.53L362.46,489.35L363.44,489.35L363.44,487.46L391.02,487.46L391.02,484.26L432.39,484.26L432.39,483.67L432.39,501.40L432.39,502.00L391.02,502.00L391.02,505.19L363.44,505.19L363.44,507.08L362.46,507.08L362.46,508.26L357.54,508.26L357.54,510.86L353.60,510.86L353.60,514.52L350.31,514.52L350.31,515.82L347.36,515.82L347.36,515.82L337.18,515.82L337.18,517.01L334.88,517.01L332.58,520.95L328.65,521.66L323.72,523.13L321.09,526.17L317.48,530.56L315.18,534.20L314.20,534.50Z" fill="#8caadc" fill-opacity="0.3" stroke="none"/>
<path d="M314.20,534.50L315.18,533.32L317.48,527.13L321.09,519.13L323.72,513.50L328.65,508.06L332.58,503.69L336.20,498.09L338.82,495.49L343.75,491.83L346.05,489.94L351.30,489.94L351.30,489.35L353.60,489.35L353.60,488.05L357.54,488.05L357.54,487.46L397.26,487.46L397.26,483.67L432.39,483.67L432.39,483.67L432.39,500.81L432.39,500.81L397.26,500.81L397.26,504.60L357.54,504.60L357.54,505.19L353.60,505.19L353.60,506.49L351.30,506.49L351.30,507.08L346.05,507.08L343.75,508.97L338.82,512.63L336.20,515.23L332.58,519.69L328.65,520.63L323.72,521.78L321.09,525.13L317.48,529.99L315.18,534.17L314.20,534.50Z" fill="#f08c96" fill-opacity="0.3" stroke="none"/>
<path d="M314.20,534.50L315.18,533.79L317.48,529.18L321.09,523.27L323.72,519.13L328.65,515.59L332.58,513.22L334.88,508.73H337.18V507.55H347.36V507.55H350.31V506.25H353.60V502.59H357.54V499.99H362.46V498.80H363.44V496.91H391.02V493.72H432.39V493.13" fill="none" stroke="#3d62ad" stroke-width="1.4" stroke-linejoin="round"/>
<path d="M314.20,534.50L315.84,532.73L320.11,527.53L325.03,521.26L329.96,517.48L337.51,513.70L347.36,511.21L359.83,508.73L374.94,506.25L394.96,505.66L413.67,503.06L432.39,503.06" fill="none" stroke="#3aa548" stroke-width="1.55" stroke-linejoin="round"/>
<path d="M314.20,534.50L315.18,533.79L317.48,528.71L321.09,522.44L323.72,518.07L328.65,515.00L332.58,512.51L336.20,507.55L338.82,504.95L343.75,501.29L346.05,499.39H351.30V498.80H353.60V497.50H357.54V496.91H397.26V493.13H432.39V493.13" fill="none" stroke="#d2232a" stroke-width="1.45" stroke-linejoin="round"/>
<rect x="313.60" y="415.80" width="1.2" height="119.20" fill="#707070"/>
<rect x="313.70" y="533.60" width="119.19" height="1.2" fill="#707070"/>
<rect x="309.60" y="534.00" width="4.6" height="1" fill="#333"/>
<text x="307.60" y="537.00" font-size="7.0" text-anchor="end" fill="#222" textLength="3.25" lengthAdjust="spacingAndGlyphs">0</text>
<rect x="309.60" y="504.45" width="4.6" height="1" fill="#333"/>
<text x="307.60" y="507.45" font-size="7.0" text-anchor="end" fill="#222" textLength="6.50" lengthAdjust="spacingAndGlyphs">25</text>
<rect x="309.60" y="474.90" width="4.6" height="1" fill="#333"/>
<text x="307.60" y="477.90" font-size="7.0" text-anchor="end" fill="#222" textLength="6.50" lengthAdjust="spacingAndGlyphs">50</text>
<rect x="309.60" y="445.35" width="4.6" height="1" fill="#333"/>
<text x="307.60" y="448.35" font-size="7.0" text-anchor="end" fill="#222" textLength="6.50" lengthAdjust="spacingAndGlyphs">75</text>
<rect x="309.60" y="415.80" width="4.6" height="1" fill="#333"/>
<text x="307.60" y="418.80" font-size="7.0" text-anchor="end" fill="#222" textLength="9.75" lengthAdjust="spacingAndGlyphs">100</text>
<rect x="313.70" y="534.50" width="1" height="3.2" fill="#333"/>
<text x="314.20" y="547.10" font-size="7.3" text-anchor="middle" fill="#222" textLength="3.45" lengthAdjust="spacingAndGlyphs">0</text>
<rect x="353.10" y="534.50" width="1" height="3.2" fill="#333"/>
<text x="353.60" y="547.10" font-size="7.3" text-anchor="middle" fill="#222" textLength="6.90" lengthAdjust="spacingAndGlyphs">12</text>
<rect x="392.49" y="534.50" width="1" height="3.2" fill="#333"/>
<text x="392.99" y="547.10" font-size="7.3" text-anchor="middle" fill="#222" textLength="6.90" lengthAdjust="spacingAndGlyphs">24</text>
<rect x="431.89" y="534.50" width="1" height="3.2" fill="#333"/>
<text x="432.39" y="547.10" font-size="7.3" text-anchor="middle" fill="#222" textLength="6.90" lengthAdjust="spacingAndGlyphs">36</text>
<text x="431.89" y="530.50" font-size="5.6" text-anchor="end" fill="#222" textLength="40.40" lengthAdjust="spacingAndGlyphs">Months since Tx</text>
<text x="309.20" y="406.00" font-size="7.5" font-weight="bold" fill="#111" class="ti" textLength="17.90" lengthAdjust="spacing">d) RI</text>
<g transform="translate(286.70,475.10) rotate(-90)">
<text x="0.00" y="0.00" font-size="6.5" text-anchor="middle" fill="#222" textLength="64.00" lengthAdjust="spacingAndGlyphs">Cumulative incidence</text>
</g>
<text x="302.20" y="562.10" font-size="5.4" text-anchor="end" fill="#222" textLength="22.90" lengthAdjust="spacingAndGlyphs">PTCy HD:</text>
<text x="314.20" y="562.10" font-size="5.4" text-anchor="middle" fill="#222" textLength="8.70" lengthAdjust="spacingAndGlyphs">134</text>
<text x="353.60" y="562.10" font-size="5.4" text-anchor="middle" fill="#222" textLength="5.80" lengthAdjust="spacingAndGlyphs">69</text>
<text x="392.99" y="562.10" font-size="5.4" text-anchor="middle" fill="#222" textLength="5.80" lengthAdjust="spacingAndGlyphs">34</text>
<text x="432.39" y="562.10" font-size="5.4" text-anchor="middle" fill="#222" textLength="5.80" lengthAdjust="spacingAndGlyphs">24</text>
<text x="302.20" y="570.40" font-size="5.4" text-anchor="end" fill="#222" textLength="22.90" lengthAdjust="spacingAndGlyphs">PTCy UD:</text>
<text x="314.20" y="570.40" font-size="5.4" text-anchor="middle" fill="#222" textLength="8.70" lengthAdjust="spacingAndGlyphs">113</text>
<text x="353.60" y="570.40" font-size="5.4" text-anchor="middle" fill="#222" textLength="5.80" lengthAdjust="spacingAndGlyphs">62</text>
<text x="392.99" y="570.40" font-size="5.4" text-anchor="middle" fill="#222" textLength="5.80" lengthAdjust="spacingAndGlyphs">36</text>
<text x="432.39" y="570.40" font-size="5.4" text-anchor="middle" fill="#222" textLength="5.80" lengthAdjust="spacingAndGlyphs">24</text>
<text x="302.20" y="578.70" font-size="5.4" text-anchor="end" fill="#222" textLength="16.90" lengthAdjust="spacingAndGlyphs">SP UD:</text>
<text x="314.20" y="578.70" font-size="5.4" text-anchor="middle" fill="#222" textLength="11.60" lengthAdjust="spacingAndGlyphs">1094</text>
<text x="353.60" y="578.70" font-size="5.4" text-anchor="middle" fill="#222" textLength="8.70" lengthAdjust="spacingAndGlyphs">557</text>
<text x="392.99" y="578.70" font-size="5.4" text-anchor="middle" fill="#222" textLength="8.70" lengthAdjust="spacingAndGlyphs">383</text>
<text x="432.39" y="578.70" font-size="5.4" text-anchor="middle" fill="#222" textLength="8.70" lengthAdjust="spacingAndGlyphs">282</text>
<text x="410.30" y="416.60" font-size="4.6" fill="#333" textLength="14.30" lengthAdjust="spacingAndGlyphs">p=0.03</text>
<rect x="401.5" y="420.90" width="9.3" height="1.2" fill="#8e3848"/>
<text x="414.60" y="423.20" font-size="4.6" fill="#333" textLength="20.00" lengthAdjust="spacingAndGlyphs">PTCy HD</text>
<rect x="401.5" y="426.10" width="9.3" height="1.2" fill="#4a78a8"/>
<text x="414.60" y="428.40" font-size="4.6" fill="#333" textLength="20.00" lengthAdjust="spacingAndGlyphs">PTCy UD</text>
<rect x="401.5" y="431.30" width="9.3" height="1.2" fill="#8cb88c"/>
<text x="414.60" y="433.60" font-size="4.6" fill="#333" textLength="15.50" lengthAdjust="spacingAndGlyphs">SP UD</text>
</svg>
</body></html>
